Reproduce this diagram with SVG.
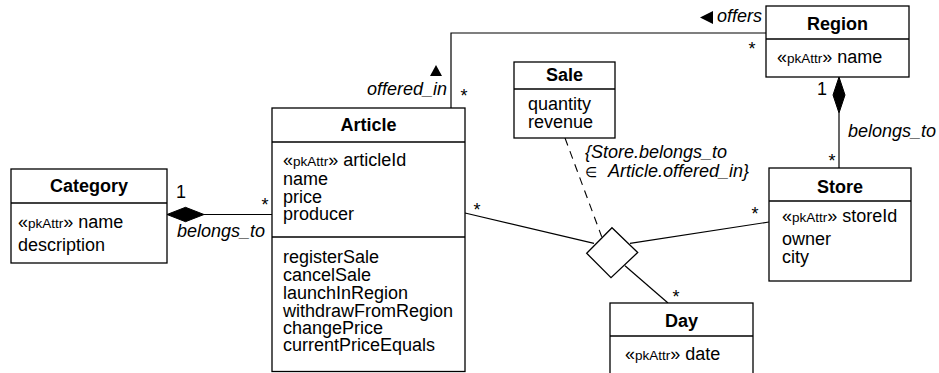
<svg xmlns="http://www.w3.org/2000/svg" width="939" height="373" viewBox="0 0 939 373">
  <style>
    text { font-family: "Liberation Sans", Arial, sans-serif; fill: #000; }
    .box { fill: #fff; stroke: #000; stroke-width: 1.3; }
    .sep { stroke: #000; stroke-width: 1.3; }
    .title { font-size: 18px; font-weight: bold; text-anchor: middle; }
    .attr { font-size: 18px; }
    .stereo { font-size: 13.5px; }
    .lbl { font-size: 18px; font-style: italic; }
    .mult { font-size: 18px; }
    .edge { fill: none; stroke: #000; stroke-width: 1.2; }
    .dash { fill: none; stroke: #000; stroke-width: 1.1; stroke-dasharray: 8 6; }
    .comp { fill: #000; stroke: #000; stroke-width: 1; }
  </style>

  <!-- associations -->
  <g id="connectors">
    <!-- Article belongs_to Category (composition) -->
    <line class="edge" x1="204" y1="214.5" x2="272" y2="214.5"/>
    <polygon class="comp" points="167,214.5 185.5,207.3 204,214.5 185.5,221.7"/>
    <text class="mult" x="176" y="198">1</text>
    <text class="mult" x="265" y="211" text-anchor="middle">*</text>
    <text class="lbl" x="177" y="237">belongs_to</text>

    <!-- Article offered_in / Region offers -->
    <polyline class="edge" points="451,108 451,33 766,33"/>
    <polygon points="430,76 436,65 442,76" fill="#000"/>
    <text class="lbl" x="447" y="95" text-anchor="end">offered_in</text>
    <text class="mult" x="464" y="102" text-anchor="middle">*</text>
    <polygon points="700,17.5 713,11 713,24" fill="#000"/>
    <text class="lbl" x="717" y="22">offers</text>
    <text class="mult" x="752" y="55" text-anchor="middle">*</text>

    <!-- Store belongs_to Region (composition) -->
    <line class="edge" x1="839" y1="113" x2="839" y2="168"/>
    <polygon class="comp" points="839,77 845,95 839,113 833,95"/>
    <text class="mult" x="817" y="95">1</text>
    <text class="lbl" x="848" y="137">belongs_to</text>
    <text class="mult" x="832" y="167" text-anchor="middle">*</text>

    <!-- ternary association Article / Store / Day -->
    <polygon class="box" points="612,227.7 637.7,252.5 611,277.7 586.7,253.3"/>
    <line class="edge" x1="465" y1="213" x2="594" y2="243.3"/>
    <line class="edge" x1="630" y1="243.3" x2="769" y2="222"/>
    <line class="edge" x1="625" y1="265.7" x2="668" y2="303"/>
    <text class="mult" x="477" y="216" text-anchor="middle">*</text>
    <text class="mult" x="755" y="220" text-anchor="middle">*</text>
    <text class="mult" x="676" y="303" text-anchor="middle">*</text>

    <!-- association class Sale -->
    <line class="dash" x1="565" y1="138" x2="601.7" y2="236.7"/>
    <text class="lbl" x="585" y="158">{Store.belongs_to</text>
    <text class="stereo" x="585" y="177">∈</text>
    <text class="lbl" x="608" y="177">Article.offered_in}</text>
  </g>

  <g id="category">
    <rect class="box" x="11" y="169" width="156" height="94"/>
    <line class="sep" x1="11" y1="203" x2="167" y2="203"/>
    <text class="title" x="89" y="192">Category</text>
    <text class="attr" x="18" y="227.5">«<tspan class="stereo">pkAttr</tspan>» name</text>
    <text class="attr" x="18" y="250.5">description</text>
  </g>

  <g id="article">
    <rect class="box" x="272" y="108" width="193" height="263.5"/>
    <line class="sep" x1="272" y1="142" x2="465" y2="142"/>
    <line class="sep" x1="272" y1="237" x2="465" y2="237"/>
    <text class="title" x="368.5" y="131">Article</text>
    <text class="attr" x="283" y="166">«<tspan class="stereo">pkAttr</tspan>» articleId</text>
    <text class="attr" x="283" y="185">name</text>
    <text class="attr" x="283" y="202.5">price</text>
    <text class="attr" x="283" y="220">producer</text>
    <text class="attr" x="283" y="262.5">registerSale</text>
    <text class="attr" x="283" y="280.5">cancelSale</text>
    <text class="attr" x="283" y="298.5">launchInRegion</text>
    <text class="attr" x="283" y="316.5">withdrawFromRegion</text>
    <text class="attr" x="283" y="333.5">changePrice</text>
    <text class="attr" x="283" y="351">currentPriceEquals</text>
  </g>

  <g id="sale">
    <rect class="box" x="514" y="62" width="101" height="76"/>
    <line class="sep" x1="514" y1="89" x2="615" y2="89"/>
    <text class="title" x="564.5" y="81">Sale</text>
    <text class="attr" x="528" y="110">quantity</text>
    <text class="attr" x="528" y="128">revenue</text>
  </g>

  <g id="region">
    <rect class="box" x="766" y="6" width="143" height="71"/>
    <line class="sep" x1="766" y1="39" x2="909" y2="39"/>
    <text class="title" x="837.5" y="30">Region</text>
    <text class="attr" x="777" y="63">«<tspan class="stereo">pkAttr</tspan>» name</text>
  </g>

  <g id="store">
    <rect class="box" x="769" y="168" width="142" height="113"/>
    <line class="sep" x1="769" y1="201" x2="911" y2="201"/>
    <text class="title" x="840" y="193">Store</text>
    <text class="attr" x="782" y="222">«<tspan class="stereo">pkAttr</tspan>» storeId</text>
    <text class="attr" x="782" y="245">owner</text>
    <text class="attr" x="782" y="263">city</text>
  </g>

  <g id="day">
    <rect class="box" x="610" y="303" width="143" height="80"/>
    <line class="sep" x1="610" y1="336" x2="753" y2="336"/>
    <text class="title" x="681.5" y="327">Day</text>
    <text class="attr" x="625" y="360">«<tspan class="stereo">pkAttr</tspan>» date</text>
  </g>
</svg>
